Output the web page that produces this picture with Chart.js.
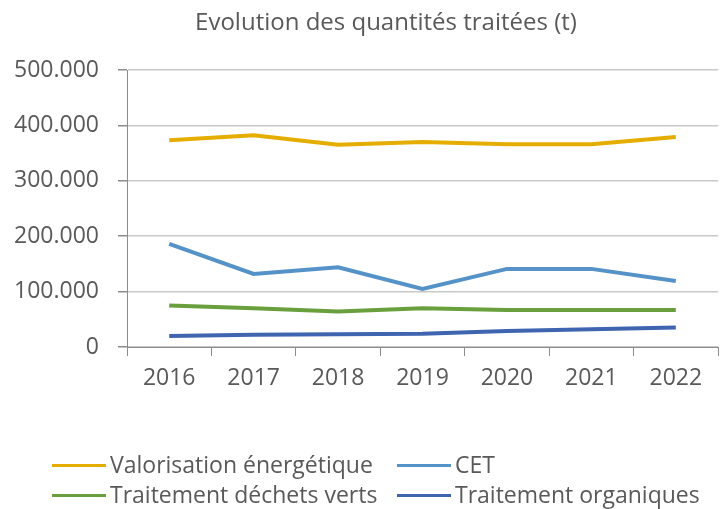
<!DOCTYPE html>
<html>
<head>
<meta charset="utf-8">
<script src="https://cdn.jsdelivr.net/npm/chart.js@4.4.1/dist/chart.umd.min.js"></script>
<style>
  body { margin: 0; background: #fff; }
  #wrap { position: relative; width: 723px; height: 509px; font-family: 'Open Sans', sans-serif; color: #595959; }
  #title { position: absolute; top: 4px; left: 166px; width: 440px; text-align: center; font-size: 24px; white-space: nowrap; }
  .leg { position: absolute; font-size: 23px; white-space: nowrap; line-height: 30px; }
  .leg i { display: inline-block; width: 54px; height: 3px; vertical-align: middle; margin-right: 4px; position: relative; top: -1px; }
</style>
</head>
<body>
<div id="wrap">
  <canvas id="chart" width="723" height="509"></canvas>
  <div id="title">Evolution des quantités traitées (t)</div>
  <div id="legend"></div>
</div>
<script>
const years = ['2016', '2017', '2018', '2019', '2020', '2021', '2022']
const valorisation = [373000, 382000, 365000, 370000, 366000, 366000, 379000]
const cet = [186000, 132000, 144000, 105000, 141000, 141000, 119000]
const dechetsVerts = [75000, 70000, 64000, 70000, 67000, 67000, 67000]
const organiques = [20000, 22000, 23000, 24000, 29000, 32000, 35000]

const seriesNames = ['Valorisation énergétique', 'CET', 'Traitement déchets verts', 'Traitement organiques']
const seriesColors = ['#E5AD00', '#5592C8', '#6A9F3D', '#3F64B0']
const seriesData = [valorisation, cet, dechetsVerts, organiques]

const axisGray = '#8c8c8c'
const textGray = '#595959'

// thousands with a dot, like the original
const fmt = v => String(v).replace(/\B(?=(\d{3})+(?!\d))/g, '.')

const datasets = seriesNames.map((name, i) => ({
  label: name,
  data: seriesData[i],
  borderColor: seriesColors[i],
  backgroundColor: seriesColors[i],
  borderWidth: 4,
  pointRadius: 0,
  tension: 0,
  fill: false
}))

new Chart(document.getElementById('chart'), {
  type: 'line',
  data: { labels: years, datasets: datasets },
  options: {
    responsive: false,
    animation: false,
    layout: { padding: { top: 70, right: 5, left: 0, bottom: 0 } },
    plugins: {
      legend: { display: false },
      title: { display: false },
      tooltip: { enabled: false }
    },
    scales: {
      x: {
        offset: true,
        grid: { offset: true, drawOnChartArea: false, drawTicks: true, tickLength: 9, color: axisGray },
        border: { color: axisGray, width: 1 },
        ticks: { color: textGray, font: { family: 'Open Sans', size: 23 }, padding: 9, maxRotation: 0 },
        afterFit: s => { s.height = 509 - 347 }
      },
      y: {
        min: 0,
        max: 500000,
        ticks: { stepSize: 100000, color: textGray, font: { family: 'Open Sans', size: 23 }, padding: 19, callback: v => fmt(v) },
        grid: { color: '#c8c8c8', lineWidth: 1.5, tickLength: 9, tickColor: axisGray },
        border: { color: axisGray, width: 1 },
        afterFit: s => { s.width = 127 }
      }
    }
  }
})

// legend laid out in two columns like the original
const legend = document.getElementById('legend')
const legendPos = [[52, 449], [397, 449], [52, 479], [397, 479]]
seriesNames.forEach((name, i) => {
  const item = document.createElement('div')
  item.className = 'leg'
  item.style.left = legendPos[i][0] + 'px'
  item.style.top = legendPos[i][1] + 'px'
  const line = document.createElement('i')
  line.style.background = seriesColors[i]
  item.appendChild(line)
  item.appendChild(document.createTextNode(name))
  legend.appendChild(item)
})
</script>
</body>
</html>
